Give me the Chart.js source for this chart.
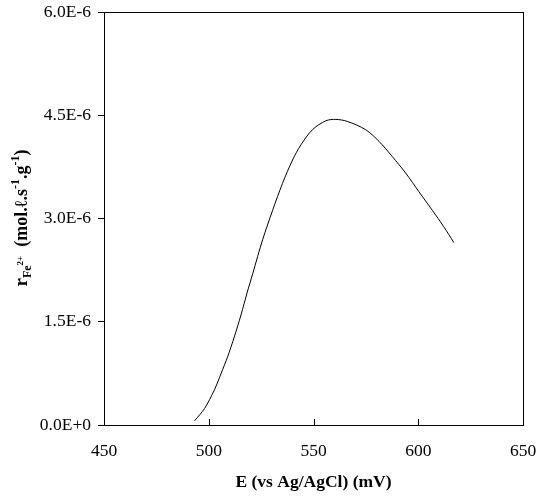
<!DOCTYPE html>
<html lang="en">
<head>
<meta charset="UTF-8" />
<title>rFe2+ vs E</title>
<script src="https://cdn.jsdelivr.net/npm/chart.js"></script>
<style>
  html, body { margin: 0; padding: 0; background: #fff; }
  #wrap { width: 536px; height: 496px; }
</style>
</head>
<body>
<div id="wrap"><canvas id="rateChart"></canvas></div>
<script>
  // E (mV vs Ag/AgCl) and rate (mol/l/s/g)
  const potential = [493.2, 498.0, 502.7, 505.9, 509.0, 512.2, 515.4, 518.3, 521.0, 525.7, 530.5, 535.2, 540.0, 544.0, 549.5, 555.9, 560.7, 566.2, 574.9, 581.3, 587.6, 594.0, 600.3, 606.7, 612.2, 617.0];
  const rate = [0.06e-6, 0.24e-6, 0.51e-6, 0.75e-6, 0.99e-6, 1.28e-6, 1.60e-6, 1.92e-6, 2.20e-6, 2.69e-6, 3.12e-6, 3.51e-6, 3.85e-6, 4.07e-6, 4.29e-6, 4.42e-6, 4.44e-6, 4.41e-6, 4.29e-6, 4.12e-6, 3.90e-6, 3.66e-6, 3.39e-6, 3.12e-6, 2.88e-6, 2.65e-6];
  const xTicks = [450, 500, 550, 600, 650];
  const yTicks = [0, 1.5e-6, 3.0e-6, 4.5e-6, 6.0e-6];

  const serif = "'Liberation Serif', 'Times New Roman', serif";

  // box around plot, inward x ticks, y title with sub/superscripts
  const decor = {
    id: 'decor',
    afterDraw(chart) {
      const ctx = chart.ctx;
      const a = chart.chartArea;
      const xs = chart.scales.x;
      ctx.save();
      ctx.strokeStyle = '#000';
      ctx.lineWidth = 1;
      ctx.strokeRect(a.left + 0.5, a.top + 0.5, a.right - a.left, a.bottom - a.top);
      ctx.beginPath();
      xTicks.forEach(v => {
        const px = Math.round(xs.getPixelForValue(v)) + 0.5;
        ctx.moveTo(px, a.bottom);
        ctx.lineTo(px, a.bottom - 6);
      });
      ctx.stroke();

      const parts = [
        { t: 'r', size: 19, dy: 0 },
        { t: 'Fe', size: 12, dy: 4 },
        { t: '2+', size: 9, dy: -4 },
        { t: '  (mol.\u2113.s', size: 18, dy: 0 },
        { t: '-1', size: 12, dy: -8 },
        { t: '.g', size: 18, dy: 0 },
        { t: '-1', size: 12, dy: -8 },
        { t: ')', size: 18, dy: 0 }
      ];
      let total = 0;
      parts.forEach(p => {
        ctx.font = 'bold ' + p.size + 'px ' + serif;
        p.w = ctx.measureText(p.t).width;
        total += p.w;
      });
      ctx.translate(27, 218);
      ctx.rotate(-Math.PI / 2);
      ctx.fillStyle = '#000';
      ctx.textBaseline = 'alphabetic';
      let x = -total / 2;
      parts.forEach(p => {
        ctx.font = 'bold ' + p.size + 'px ' + serif;
        ctx.fillText(p.t, x, p.dy);
        x += p.w;
      });
      ctx.restore();
    }
  };

  new Chart(document.getElementById('rateChart'), {
    type: 'line',
    data: {
      datasets: [{
        data: potential.map((e, i) => ({ x: e, y: rate[i] })),
        borderColor: '#000',
        borderWidth: 1,
        pointRadius: 0,
        fill: false,
        tension: 0.3
      }]
    },
    options: {
      responsive: true,
      maintainAspectRatio: false,
      animation: false,
      layout: { autoPadding: false, padding: { top: 12, right: 13, bottom: 0, left: 0 } },
      plugins: { legend: { display: false }, tooltip: { enabled: false } },
      scales: {
        x: {
          type: 'linear',
          min: 450,
          max: 650,
          afterBuildTicks: s => { s.ticks = xTicks.map(v => ({ value: v })); },
          afterFit: s => { s.height = 71; s.paddingLeft = 0; s.paddingRight = 0; },
          grid: { display: true, drawOnChartArea: false, drawTicks: false },
          border: { color: '#000', width: 1 },
          ticks: { color: '#000', padding: 16, maxRotation: 0, font: { family: serif, size: 17.5 } },
          title: {
            display: true,
            text: 'E (vs Ag/AgCl) (mV)',
            color: '#000',
            font: { family: serif, size: 17.5, weight: 'bold' },
            padding: { top: 0, bottom: 3 }
          }
        },
        y: {
          min: 0,
          max: 6e-6,
          afterBuildTicks: s => { s.ticks = yTicks.map(v => ({ value: v })); },
          afterFit: s => { s.width = 104; s.paddingTop = 0; s.paddingBottom = 0; },
          grid: { display: true, drawOnChartArea: false, drawTicks: true, tickLength: 6, color: '#000' },
          border: { color: '#000', width: 1 },
          ticks: {
            color: '#000',
            padding: 7,
            font: { family: serif, size: 17.5 },
            callback: v => v.toExponential(1).toUpperCase()
          }
        }
      }
    },
    plugins: [decor]
  });
</script>
</body>
</html>
